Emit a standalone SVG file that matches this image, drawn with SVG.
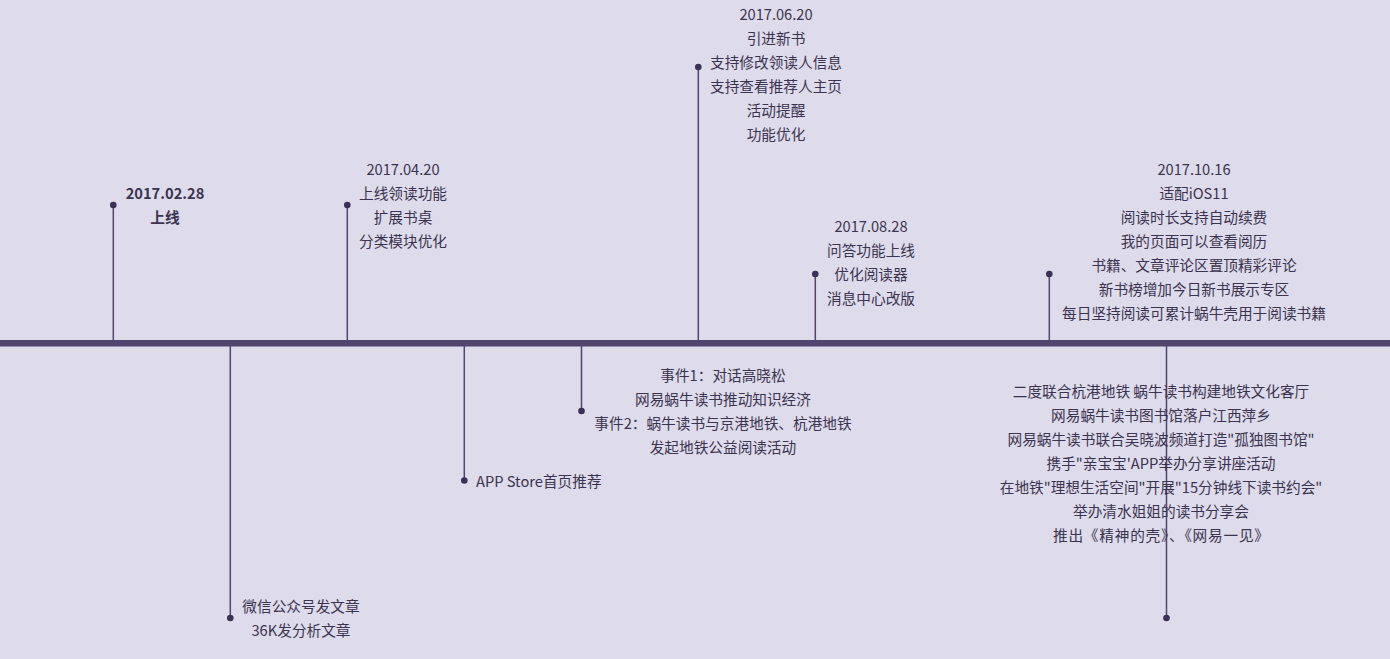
<svg xmlns="http://www.w3.org/2000/svg" width="1390" height="659" viewBox="0 0 1390 659">
<style>
.bg{fill:#dedbea}
.bar{fill:#52456f}
.stem{stroke:#52456f;stroke-width:1.5;fill:none}
.dot{fill:#3b3155}
text{font-family:"Microsoft YaHei","Noto Sans CJK SC","Noto Sans",sans-serif;font-size:14.67px;fill:#3b3450;dominant-baseline:central}
.c{text-anchor:middle}
.b{font-weight:bold}
</style>
<rect class="bg" x="0" y="0" width="1390" height="659"/>
<g id="connectors">
<rect class="bar" x="0" y="340" width="1390" height="6.5"/>
<line class="stem" x1="113.3" y1="205" x2="113.3" y2="340"/>
<line class="stem" x1="347.3" y1="205" x2="347.3" y2="340"/>
<line class="stem" x1="698.3" y1="67" x2="698.3" y2="340"/>
<line class="stem" x1="815.3" y1="274" x2="815.3" y2="340"/>
<line class="stem" x1="1049.3" y1="274" x2="1049.3" y2="340"/>
<line class="stem" x1="230.3" y1="346" x2="230.3" y2="618"/>
<line class="stem" x1="464.3" y1="346" x2="464.3" y2="480"/>
<line class="stem" x1="581.5" y1="346" x2="581.5" y2="411"/>
<line class="stem" x1="1166.5" y1="346" x2="1166.5" y2="618"/>
</g>
<g id="n0228">
<circle class="dot" cx="113.3" cy="205" r="3.3"/>
<text class="c b" x="165" y="192">2017.02.28</text>
<text class="c b" x="165" y="216.5">上线</text>
</g>
<g id="n0420">
<circle class="dot" cx="347.3" cy="205" r="3.3"/>
<text class="c" x="403" y="168.5">2017.04.20</text>
<text class="c" x="403" y="192.5">上线领读功能</text>
<text class="c" x="403" y="216.5">扩展书桌</text>
<text class="c" x="403" y="240.5">分类模块优化</text>
</g>
<g id="n0620">
<circle class="dot" cx="698.3" cy="67" r="3.3"/>
<text class="c" x="776" y="13.5">2017.06.20</text>
<text class="c" x="776" y="37.5">引进新书</text>
<text class="c" x="776" y="61.5">支持修改领读人信息</text>
<text class="c" x="776" y="85.5">支持查看推荐人主页</text>
<text class="c" x="776" y="109.5">活动提醒</text>
<text class="c" x="776" y="133.5">功能优化</text>
</g>
<g id="n0828">
<circle class="dot" cx="815.3" cy="274" r="3.3"/>
<text class="c" x="871" y="225.5">2017.08.28</text>
<text class="c" x="871" y="249.5">问答功能上线</text>
<text class="c" x="871" y="273.5">优化阅读器</text>
<text class="c" x="871" y="297.5">消息中心改版</text>
</g>
<g id="n1016">
<circle class="dot" cx="1049.3" cy="274" r="3.3"/>
<text class="c" x="1194" y="168">2017.10.16</text>
<text class="c" x="1194" y="192">适配iOS11</text>
<text class="c" x="1194" y="216">阅读时长支持自动续费</text>
<text class="c" x="1194" y="240">我的页面可以查看阅历</text>
<text class="c" x="1194" y="264">书籍、文章评论区置顶精彩评论</text>
<text class="c" x="1194" y="288">新书榜增加今日新书展示专区</text>
<text class="c" x="1194" y="312">每日坚持阅读可累计蜗牛壳用于阅读书籍</text>
</g>
<g id="nwechat">
<circle class="dot" cx="230.3" cy="618" r="3.3"/>
<text class="c" x="301" y="605">微信公众号发文章</text>
<text class="c" x="301" y="629">36K发分析文章</text>
</g>
<g id="nappstore">
<circle class="dot" cx="464.3" cy="480.5" r="3.3"/>
<text x="476" y="480.5">APP Store首页推荐</text>
</g>
<g id="nevents">
<circle class="dot" cx="581.5" cy="411" r="3.3"/>
<text class="c" x="723" y="374.5">事件1：对话高晓松</text>
<text class="c" x="723" y="398.5">网易蜗牛读书推动知识经济</text>
<text class="c" x="723" y="422.5">事件2：蜗牛读书与京港地铁、杭港地铁</text>
<text class="c" x="723" y="446.5">发起地铁公益阅读活动</text>
</g>
<g id="nactivities">
<circle class="dot" cx="1166.5" cy="618" r="3.3"/>
<text class="c" x="1161" y="390.5">二度联合杭港地铁 蜗牛读书构建地铁文化客厅</text>
<text class="c" x="1161" y="414.5">网易蜗牛读书图书馆落户江西萍乡</text>
<text class="c" x="1161" y="438.5">网易蜗牛读书联合吴晓波频道打造"孤独图书馆"</text>
<text class="c" x="1161" y="462.5">携手"亲宝宝'APP举办分享讲座活动</text>
<text class="c" x="1161" y="486.5">在地铁"理想生活空间"开展"15分钟线下读书约会"</text>
<text class="c" x="1161" y="510.5">举办清水姐姐的读书分享会</text>
<text class="c" x="1161" y="534.5" textLength="216" lengthAdjust="spacing">推出《精神的壳》、《网易一见》</text>
</g>
</svg>
